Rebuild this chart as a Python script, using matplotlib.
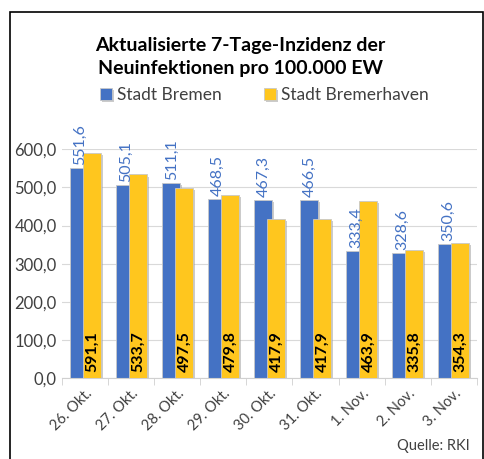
import numpy as np
import matplotlib
matplotlib.use("Agg")
from matplotlib import pyplot as plt
from matplotlib import patheffects as pe
from matplotlib.patches import Rectangle

dates = ["26. Okt.", "27. Okt.", "28. Okt.", "29. Okt.", "30. Okt.",
         "31. Okt.", "1. Nov.", "2. Nov.", "3. Nov."]
bremen = [551.6, 505.1, 511.1, 468.5, 467.3, 466.5, 333.4, 328.6, 350.6]
bremerhaven = [591.1, 533.7, 497.5, 479.8, 417.9, 417.9, 463.9, 335.8, 354.3]
yticks = [0, 100, 200, 300, 400, 500, 600]

plt.rcParams['font.family'] = ['Lato', 'DejaVu Sans']

blue = '#4472C4'
yellow = '#FFC61E'

fig = plt.figure(figsize=(4.85, 4.59), dpi=100)
ax = fig.add_axes([0.128, 0.176, 0.855, 0.499])

x = np.arange(len(dates))
w = 0.39
shadow = [pe.SimplePatchShadow(offset=(1.5, -1.5), shadow_rgbFace='#999999', alpha=0.5), pe.Normal()]

b1 = ax.bar(x - 0.14, bremen, w, color=blue, edgecolor='#c8c8c8', linewidth=0.6,
            zorder=2, label='Stadt Bremen', path_effects=shadow)
b2 = ax.bar(x + 0.14, bremerhaven, w, color=yellow, edgecolor='#c8c8c8', linewidth=0.6,
            zorder=3, label='Stadt Bremerhaven', path_effects=shadow)

def fmt(v):
    return f"{v:.1f}".replace('.', ',')

for xi, v in zip(x, bremen):
    ax.text(xi - 0.12, v + 8, fmt(v), rotation=90, ha='center', va='bottom',
            color=blue, fontsize=11.5, zorder=5, clip_on=False)
for xi, v in zip(x, bremerhaven):
    ax.text(xi + 0.15, 16, fmt(v), rotation=90, ha='center', va='bottom',
            color='black', fontsize=11.5, fontweight='bold', zorder=5)

ax.set_xlim(-0.5, len(dates) - 0.5)
ax.set_ylim(0, 600)
ax.set_yticks(yticks)
ax.set_yticklabels([fmt(v) for v in yticks], fontsize=12, color='#404040')
ax.set_xticks(x)
ax.set_xticklabels(dates, rotation=45, ha='right', rotation_mode='anchor',
                   fontsize=10.5, color='#404040')
ax.set_xticks(np.arange(len(dates) + 1) - 0.5, minor=True)
ax.tick_params(axis='x', which='major', length=0, pad=6)
ax.tick_params(axis='x', which='minor', length=5, color='#d0d0d0')
ax.tick_params(axis='y', length=0, pad=4)
ax.grid(axis='y', color='#d9d9d9', linewidth=0.8, zorder=0)
ax.set_axisbelow(True)
for s in ['top', 'right', 'left']:
    ax.spines[s].set_visible(False)
ax.spines['bottom'].set_color('#d0d0d0')

fig.text(0.495, 0.876, "Aktualisierte 7-Tage-Inzidenz der\nNeuinfektionen pro 100.000 EW",
         ha='center', va='center', fontsize=14, fontweight='bold', linespacing=1.4)
fig.legend(handles=[b1, b2], loc='center', bbox_to_anchor=(0.545, 0.793), ncol=2,
           frameon=False, fontsize=12.5, handlelength=0.7, handleheight=0.7,
           handletextpad=0.3, columnspacing=2.4, labelcolor='#404040')
fig.text(0.968, 0.012, "Quelle: RKI", ha='right', va='bottom', fontsize=10.5, color='#404040')

fig.add_artist(Rectangle((0.021, -0.05), 0.975, 1.024, transform=fig.transFigure,
                         fill=False, edgecolor='black', linewidth=1.2))

fig.savefig('out.png', dpi=100)
